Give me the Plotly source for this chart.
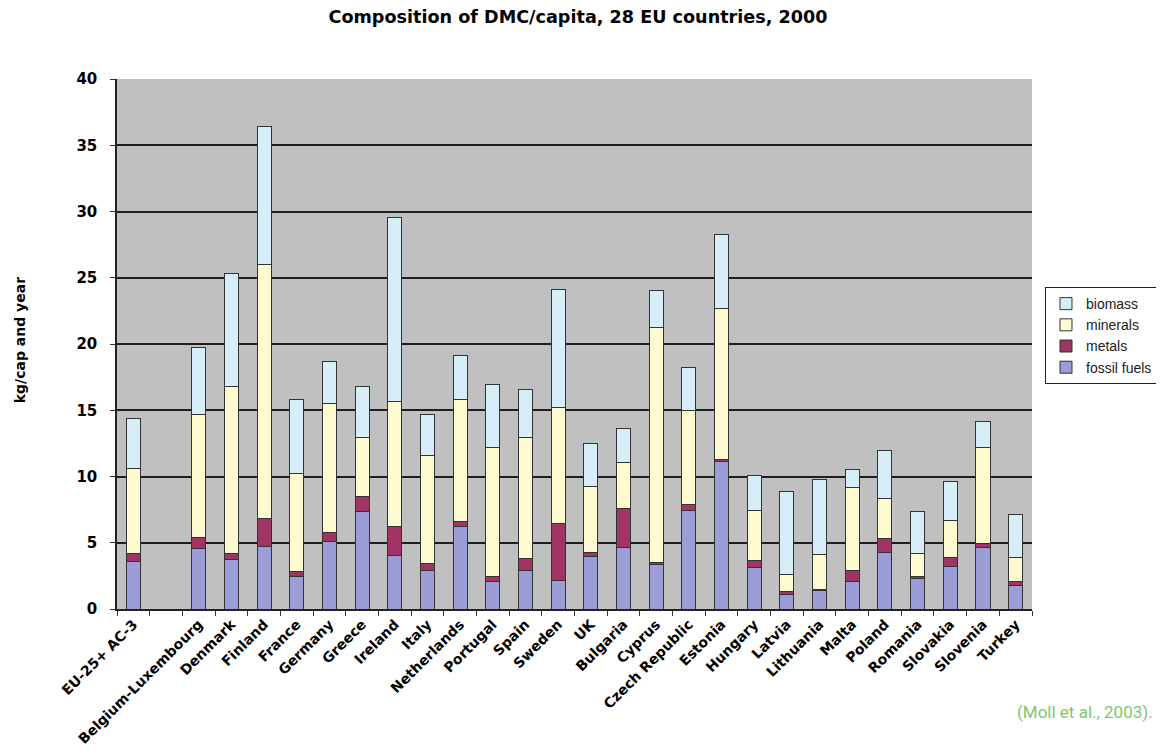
import plotly.graph_objects as go

categories = ["EU-25+ AC-3", " ", "Belgium-Luxembourg", "Denmark", "Finland", "France",
              "Germany", "Greece", "Ireland", "Italy", "Netherlands", "Portugal", "Spain",
              "Sweden", "UK", "Bulgaria", "Cyprus", "Czech Republic", "Estonia", "Hungary",
              "Latvia", "Lithuania", "Malta", "Poland", "Romania", "Slovakia", "Slovenia", "Turkey"]

fossil_fuels = [3.55, None, 4.6, 3.75, 4.75, 2.43, 5.08, 7.38, 4.05, 2.88, 6.19, 2.09, 2.91,
                2.17, 3.94, 4.63, 3.36, 7.46, 11.11, 3.15, 1.06, 1.38, 2.09, 4.29, 2.3, 3.23, 4.63, 1.77]
metals = [0.65, None, 0.8, 0.45, 2.05, 0.4, 0.66, 1.09, 2.14, 0.53, 0.4, 0.4, 0.93,
          4.31, 0.29, 2.96, 0.13, 0.4, 0.19, 0.53, 0.24, 0.12, 0.82, 1.05, 0.19, 0.66, 0.32, 0.27]
minerals = [6.4, None, 9.3, 12.6, 19.2, 7.41, 9.74, 4.49, 9.47, 8.19, 9.21, 9.68, 9.1,
            8.73, 5.0, 3.49, 17.78, 7.14, 11.4, 3.72, 1.27, 2.65, 6.29, 2.99, 1.71, 2.78, 7.25, 1.85]
biomass = [3.8, None, 5.0, 8.5, 10.4, 5.56, 3.22, 3.81, 13.89, 3.06, 3.3, 4.76, 3.59,
           8.92, 3.26, 2.52, 2.8, 3.23, 5.6, 2.7, 6.33, 5.65, 1.36, 3.67, 3.18, 2.96, 1.93, 3.23]

series = [
    ("fossil fuels", fossil_fuels, "#9C9CD6"),
    ("metals", metals, "#A03565"),
    ("minerals", minerals, "#FFFBD0"),
    ("biomass", biomass, "#D5EEF8"),
]

fig = go.Figure()
for name, vals, color in series:
    fig.add_trace(go.Bar(
        x=categories, y=vals, name=name, width=0.43, legendgroup=name,
        marker=dict(color=color, line=dict(color="#333333", width=1)),
    ))

bold_family = "DejaVu Sans, Arial, sans-serif"
plain_family = "Liberation Sans, Arial, sans-serif"

W, H = 1148, 740
fig.update_layout(
    barmode="stack",
    width=W, height=H,
    paper_bgcolor="white",
    plot_bgcolor="#C0C0C0",
    margin=dict(l=109, r=124, t=71, b=139, autoexpand=False),
    title=dict(text="<b>Composition of DMC/capita, 28 EU countries, 2000</b>",
               x=570 / W, xref="container", xanchor="center",
               y=1 - 9 / H, yref="container", yanchor="middle",
               font=dict(family=bold_family, size=17.6, color="black")),
    showlegend=True,
    legend=dict(traceorder="reversed", x=1.0142, y=0.6075, xanchor="left", yanchor="top",
                tracegroupgap=4,
                bordercolor="#222222", borderwidth=1, bgcolor="white",
                font=dict(family=plain_family, size=14, color="#222222")),
    font=dict(family=plain_family, color="black"),
)

fig.update_xaxes(
    type="category", categoryorder="array", categoryarray=categories,
    tickangle=-45, tickson="boundaries", ticks="outside", ticklen=5, tickcolor="#333",
    showline=True, linecolor="#222", linewidth=1.5, showgrid=False, automargin=False,
    tickfont=dict(family=bold_family, size=14, color="black", weight="bold"),
)
fig.update_yaxes(
    range=[0, 40], tickvals=[0, 5, 10, 15, 20, 25, 30, 35, 40],
    ticks="outside", ticklen=5, tickcolor="#333", ticklabelstandoff=10,
    showline=True, linecolor="#222", linewidth=1.5, automargin=False,
    showgrid=True, gridcolor="#1e1e1e", gridwidth=1.5, zeroline=False,
    tickfont=dict(family=bold_family, size=15, color="black", weight="bold"),
)

fig.add_annotation(text="<b>kg/cap and year</b>", textangle=-90,
                   xref="paper", yref="paper", x=(12 - 109) / 915, y=0.507,
                   xanchor="center", yanchor="middle", showarrow=False,
                   font=dict(family=bold_family, size=14, color="black"))

fig.add_annotation(text="(Moll et al., 2003).", xref="paper", yref="paper",
                   x=(1147 - 109) / 915, y=(601 - 704) / 530,
                   xanchor="right", yanchor="middle", showarrow=False,
                   font=dict(family="Roboto, sans-serif", size=17, color="#7CC86E"))

fig.write_html("out.html")
